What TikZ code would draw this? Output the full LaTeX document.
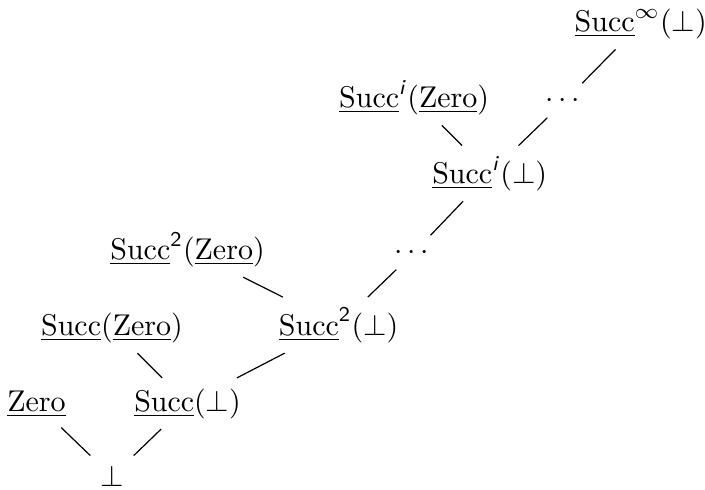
\documentclass[tikz,border=0pt]{standalone}
\usepackage{amsmath}
\usepackage{tikz}
\newcommand{\cSucc}{\underline{\mathrm{Succ}}}
\newcommand{\cZero}{\underline{\mathrm{Zero}}}

\begin{document}
\begin{tikzpicture}[
    x=0.885cm, y=0.89cm,
    val/.style={anchor=base},
    order/.style={draw=black}
  ]
    \useasboundingbox (-0.428cm,-0.035cm) rectangle (7.833cm,5.706cm);
    % chain of partial values
    \node[val] (bot) at (1,0) {$\bot$};
    \node[val] (s1) at (2,1) {$\cSucc(\bot)$};
    \node[val] (s2) at (4,2) {$\cSucc^{\textsf{2}}(\bot)$};
    \node[val] (d1) at (5,3) {$\cdots$};
    \node[val] (si) at (6,4) {$\cSucc^{\textsf{\textit{i}}}(\bot)$};
    \node[val] (d2) at (7,5) {$\cdots$};
    \node[val] (sinf) at (8,6) {$\cSucc^{\infty}(\bot)$};
    % total values
    \node[val] (z0) at (0,1) {$\cZero$};
    \node[val] (z1) at (1,2) {$\cSucc(\cZero)$};
    \node[val] (z2) at (2,3) {$\cSucc^{\textsf{2}}(\cZero)$};
    \node[val] (zi) at (5,5) {$\cSucc^{\textsf{\textit{i}}}(\cZero)$};
    \draw[order] (z0) -- (bot);
    \draw[order] (s1) -- (bot);
    \draw[order] (z1) -- (s1);
    \draw[order] (s2) -- (s1);
    \draw[order] (z2) -- (s2);
    \draw[order] (d1) -- (s2);
    \draw[order] (si) -- (d1);
    \draw[order] (zi) -- (si);
    \draw[order] (d2) -- (si);
    \draw[order] (sinf) -- (d2);
  \end{tikzpicture}
\end{document}
